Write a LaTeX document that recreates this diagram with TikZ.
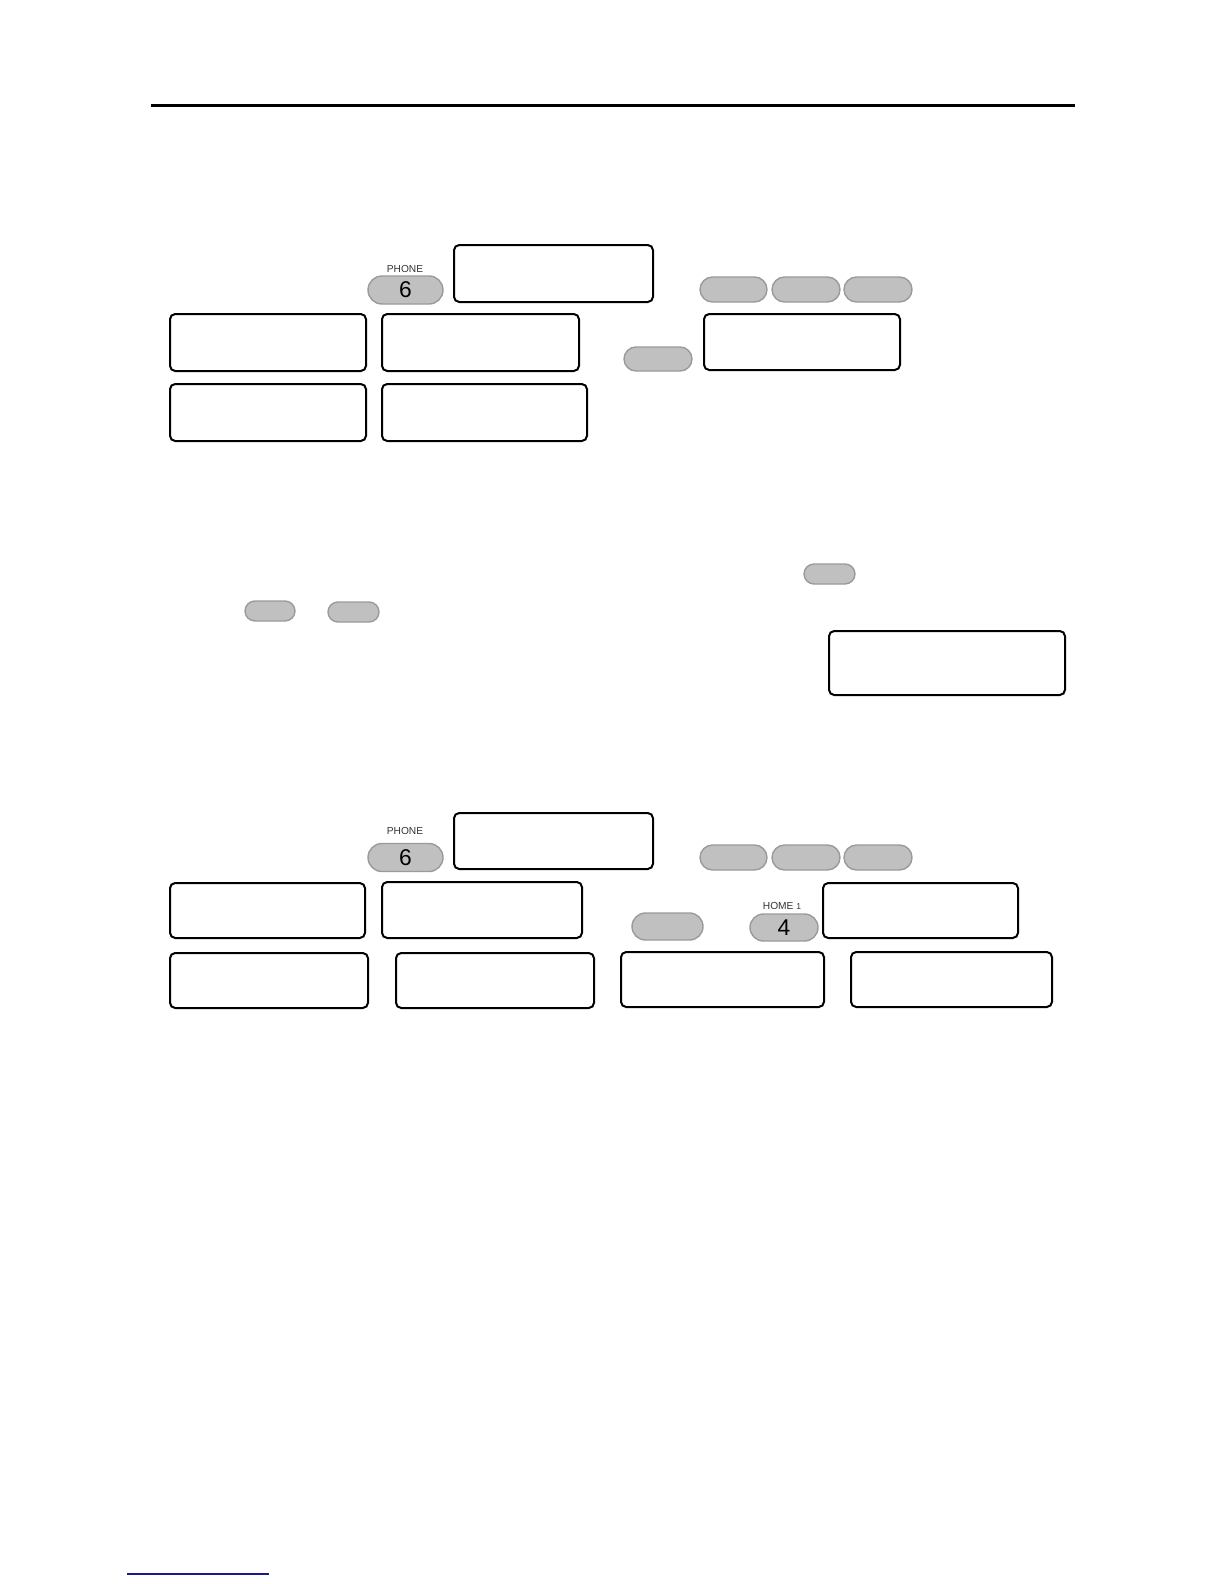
\documentclass[tikz,border=0pt]{standalone}
\usepackage{fontspec}
\setmainfont{Liberation Sans}
\definecolor{pillfill}{HTML}{C0C0C0}
\definecolor{pilldraw}{HTML}{9A9A9A}
\definecolor{labelgray}{HTML}{333333}
\definecolor{linkblue}{HTML}{1A1A8C}
\begin{document}
\begin{tikzpicture}[x=0.5pt,y=-0.5pt,
  box/.style={draw=black,line width=1pt,rounded corners=2.6pt,inner sep=0pt,fill=white},
  pill/.style={draw=pilldraw,fill=pillfill,line width=0.7pt,rounded corners=#1,inner sep=0pt},
  pill/.default=6pt,
  keylabel/.style={inner sep=0pt,text=labelgray,font=\fontsize{5.1}{6}\selectfont},
  keydigit/.style={font=\fontsize{11.4}{12}\selectfont}
]
\useasboundingbox (0,0) rectangle (1224,1584);
% top rule and bottom link line
\coordinate (ruleL) at (151,106);
\coordinate (ruleR) at (1075,106);
\draw[line width=1.5pt] (ruleL) -- (ruleR);
\coordinate (linkL) at (127,1574);
\coordinate (linkR) at (269,1574);
\draw[linkblue,line width=0.8pt] (linkL) -- (linkR);

% ---------- section 1 ----------
\node[keylabel] (phoneA) at (405,269) {PHONE};
\node[pill=7pt,minimum width=37.5pt,minimum height=14pt,keydigit] (sixA) at (405.5,290) {6};
\node[box,minimum width=99.5pt,minimum height=28.5pt] (bA) at (553.5,273.5) {};
\node[pill=6.25pt,minimum width=33.5pt,minimum height=12.5pt] (pA1) at (733.5,289.5) {};
\node[pill=6.25pt,minimum width=34pt,minimum height=12.5pt] (pA2) at (806,289.5) {};
\node[pill=6.25pt,minimum width=34pt,minimum height=12.5pt] (pA3) at (878,289.5) {};
\node[box,minimum width=98pt,minimum height=28.5pt] (b11) at (268,342.5) {};
\node[box,minimum width=98.5pt,minimum height=28.5pt] (b12) at (480.5,342.5) {};
\node[pill=6pt,minimum width=34pt,minimum height=12pt] (pAL) at (658,359) {};
\node[box,minimum width=98pt,minimum height=28pt] (b13) at (802,342) {};
\node[box,minimum width=98pt,minimum height=28.5pt] (b21) at (268,412.5) {};
\node[box,minimum width=102.5pt,minimum height=28.5pt] (b22) at (484.5,412.5) {};

% ---------- section 2 ----------
\node[pill=5pt,minimum width=25.5pt,minimum height=10pt] (pS1) at (829.5,574) {};
\node[pill=5pt,minimum width=25pt,minimum height=10pt] (pS2) at (270,611) {};
\node[pill=5pt,minimum width=25.5pt,minimum height=10pt] (pS3) at (353.5,612) {};
\node[box,minimum width=118pt,minimum height=32pt] (bBig) at (947,663) {};

% ---------- section 3 ----------
\node[keylabel] (phoneB) at (405,831) {PHONE};
\node[pill=7pt,minimum width=37.5pt,minimum height=14pt,keydigit] (sixB) at (405.5,857.5) {6};
\node[box,minimum width=99.5pt,minimum height=28pt] (bA2) at (553.5,841) {};
\node[pill=6.25pt,minimum width=33.5pt,minimum height=12.5pt] (pB1) at (733.5,857.5) {};
\node[pill=6.25pt,minimum width=34pt,minimum height=12.5pt] (pB2) at (806,857.5) {};
\node[pill=6.25pt,minimum width=34pt,minimum height=12.5pt] (pB3) at (878,857.5) {};
\node[box,minimum width=97.5pt,minimum height=27.5pt] (b31) at (267.5,910.5) {};
\node[box,minimum width=100pt,minimum height=28pt] (b32) at (482,910) {};
\node[pill=6.75pt,minimum width=35.5pt,minimum height=13.5pt] (pBL) at (667.5,926.5) {};
\node[keylabel] (homeB) at (782,906) {HOME {\fontsize{4.3}{5}\selectfont 1}};
\node[pill=6.75pt,minimum width=34pt,minimum height=13.5pt,keydigit] (fourB) at (784,927.5) {4};
\node[box,minimum width=97.5pt,minimum height=27.5pt] (b33) at (920.5,910.5) {};
\node[box,minimum width=99pt,minimum height=27.5pt] (b41) at (269,980.5) {};
\node[box,minimum width=99pt,minimum height=27.5pt] (b42) at (495,980.5) {};
\node[box,minimum width=101.5pt,minimum height=27.5pt] (b43) at (722.5,979.5) {};
\node[box,minimum width=100.5pt,minimum height=27.5pt] (b44) at (951.5,979.5) {};
\end{tikzpicture}
\end{document}
